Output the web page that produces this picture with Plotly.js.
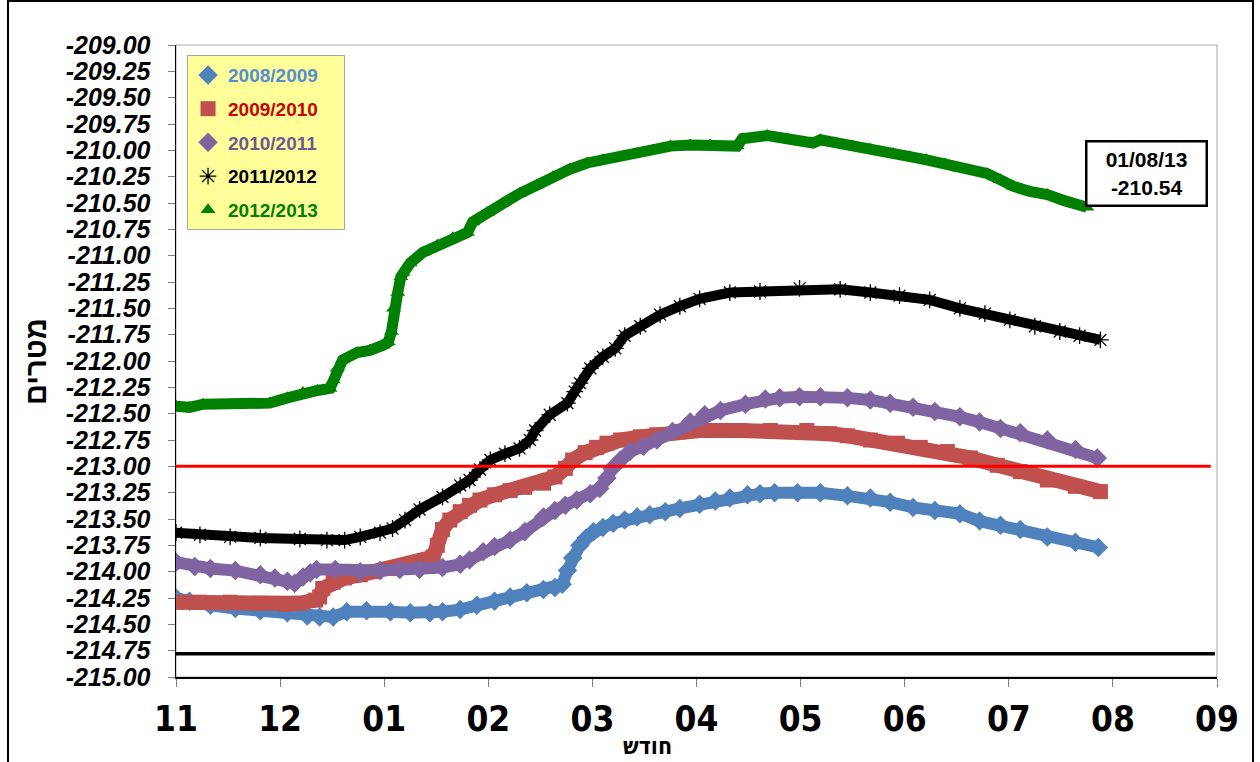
<!DOCTYPE html>
<html><head><meta charset="utf-8">
<script src="https://cdn.plot.ly/plotly-3.0.1.min.js"></script>
<style>
html,body{margin:0;padding:0;overflow:hidden;background:#fff;}
#chart{position:absolute;left:0;top:0;width:1260px;height:762px;}
#frame{position:absolute;left:7px;top:0;width:1247px;height:800px;border:2px solid #000;box-sizing:border-box;pointer-events:none;}
</style></head><body>
<div id="chart"></div><div id="frame"></div>
<script>
// x = months since 1 November (tick 0 = "11" ... tick 10 = "09")
const MONTH_POS = [0,1,2,3,4,5,6,7,8,9,10];
const MONTH_LABELS = ['11','12','01','02','03','04','05','06','07','08','09'];
const Y_TICK_VALS = [-215,-214.75,-214.5,-214.25,-214,-213.75,-213.5,-213.25,-213,-212.75,-212.5,-212.25,-212,-211.75,-211.5,-211.25,-211,-210.75,-210.5,-210.25,-210,-209.75,-209.5,-209.25,-209];
const Y_TICK_LABELS = ['-215.00','-214.75','-214.50','-214.25','-214.00','-213.75','-213.50','-213.25','-213.00','-212.75','-212.50','-212.25','-212.00','-211.75','-211.50','-211.25','-211.00','-210.75','-210.50','-210.25','-210.00','-209.75','-209.50','-209.25','-209.00'];

const SERIES_NAMES = ['2008/2009','2009/2010','2010/2011','2011/2012','2012/2013'];

const x_0809 = [0.00,0.13,0.33,0.57,0.81,1.07,1.26,1.38,1.51,1.64,1.83,2.06,2.25,2.44,2.56,2.73,2.89,3.06,3.21,3.37,3.53,3.64,3.71,3.76,3.81,3.88,3.94,4.01,4.10,4.20,4.31,4.43,4.55,4.70,4.84,5.03,5.18,5.32,5.49,5.61,5.75,5.97,6.19,6.45,6.67,6.86,7.08,7.29,7.53,7.72,7.92,8.11,8.37,8.64,8.86];
const y_0809 = [-214.25,-214.28,-214.32,-214.35,-214.37,-214.39,-214.42,-214.43,-214.43,-214.38,-214.37,-214.38,-214.39,-214.39,-214.38,-214.36,-214.32,-214.28,-214.24,-214.20,-214.17,-214.15,-214.12,-213.99,-213.87,-213.75,-213.68,-213.62,-213.58,-213.54,-213.51,-213.48,-213.46,-213.43,-213.40,-213.36,-213.33,-213.30,-213.27,-213.26,-213.25,-213.25,-213.25,-213.28,-213.30,-213.34,-213.39,-213.42,-213.45,-213.52,-213.56,-213.60,-213.67,-213.72,-213.77];

const x_0910 = [0.00,0.23,0.52,0.81,1.05,1.19,1.34,1.38,1.41,1.51,1.62,1.77,1.91,2.08,2.25,2.39,2.47,2.51,2.56,2.63,2.73,2.82,2.92,3.06,3.21,3.35,3.53,3.64,3.74,3.81,3.93,4.04,4.14,4.27,4.46,4.62,4.84,5.03,5.42,5.71,6.06,6.28,6.45,6.67,6.93,7.15,7.41,7.63,7.89,8.11,8.37,8.64,8.88];
const y_0910 = [-214.29,-214.29,-214.29,-214.30,-214.31,-214.30,-214.27,-214.24,-214.16,-214.10,-214.06,-214.03,-214.00,-213.97,-213.94,-213.90,-213.86,-213.75,-213.60,-213.51,-213.43,-213.37,-213.32,-213.27,-213.23,-213.20,-213.16,-213.10,-213.02,-212.94,-212.87,-212.82,-212.78,-212.75,-212.72,-212.70,-212.67,-212.66,-212.66,-212.66,-212.66,-212.69,-212.71,-212.75,-212.78,-212.82,-212.86,-212.92,-212.99,-213.05,-213.13,-213.19,-213.24];

const x_1011 = [0.00,0.18,0.33,0.57,0.81,0.95,1.07,1.14,1.22,1.29,1.35,1.53,1.77,1.96,2.15,2.34,2.56,2.73,2.82,2.95,3.06,3.21,3.35,3.53,3.64,3.74,3.85,3.98,4.07,4.14,4.19,4.27,4.36,4.49,4.62,4.77,4.94,5.08,5.23,5.47,5.66,5.80,5.99,6.19,6.45,6.67,6.86,7.08,7.29,7.53,7.72,7.92,8.11,8.37,8.64,8.85];
const y_1011 = [-213.91,-213.95,-213.97,-213.99,-214.03,-214.06,-214.09,-214.11,-214.05,-214.01,-213.98,-213.98,-214.00,-213.99,-213.98,-213.98,-213.96,-213.93,-213.89,-213.81,-213.76,-213.70,-213.62,-213.48,-213.42,-213.37,-213.32,-213.26,-213.21,-213.11,-213.02,-212.94,-212.86,-212.81,-212.75,-212.67,-212.58,-212.51,-212.47,-212.41,-212.36,-212.35,-212.34,-212.34,-212.35,-212.37,-212.40,-212.44,-212.48,-212.53,-212.58,-212.64,-212.68,-212.75,-212.84,-212.92];

const x_1112 = [0.00,0.23,0.52,0.81,1.19,1.45,1.62,1.77,1.96,2.08,2.20,2.34,2.56,2.73,2.82,2.92,3.02,3.16,3.30,3.40,3.45,3.59,3.76,3.83,3.88,3.98,4.10,4.22,4.31,4.46,4.65,4.84,5.03,5.32,5.61,5.99,6.38,6.67,6.95,7.24,7.53,7.77,8.01,8.25,8.49,8.68,8.88];
const y_1112 = [-213.63,-213.65,-213.67,-213.68,-213.69,-213.70,-213.70,-213.67,-213.63,-213.59,-213.51,-213.41,-213.29,-213.18,-213.13,-213.03,-212.94,-212.88,-212.83,-212.75,-212.66,-212.51,-212.40,-212.29,-212.21,-212.07,-211.96,-211.88,-211.76,-211.67,-211.56,-211.48,-211.41,-211.35,-211.34,-211.31,-211.32,-211.35,-211.38,-211.42,-211.50,-211.55,-211.61,-211.67,-211.72,-211.76,-211.80];

const x_1213 = [0.00,0.13,0.26,0.52,0.71,0.90,1.07,1.22,1.36,1.48,1.51,1.55,1.60,1.74,1.86,1.99,2.04,2.07,2.09,2.13,2.16,2.18,2.25,2.37,2.51,2.66,2.80,2.85,2.99,3.14,3.30,3.47,3.62,3.78,3.95,4.10,4.27,4.43,4.58,4.75,4.94,5.13,5.39,5.44,5.68,5.87,6.12,6.19,6.33,6.50,6.67,6.89,7.05,7.21,7.39,7.53,7.79,7.92,8.04,8.20,8.37,8.54,8.75];
const y_1213 = [-212.43,-212.44,-212.41,-212.41,-212.41,-212.40,-212.35,-212.30,-212.28,-212.26,-212.18,-212.07,-211.99,-211.92,-211.90,-211.85,-211.82,-211.72,-211.50,-211.35,-211.20,-211.16,-211.07,-210.97,-210.90,-210.83,-210.78,-210.68,-210.59,-210.50,-210.41,-210.33,-210.25,-210.18,-210.12,-210.09,-210.06,-210.03,-210.00,-209.96,-209.95,-209.95,-209.96,-209.89,-209.86,-209.89,-209.93,-209.90,-209.93,-209.96,-209.99,-210.03,-210.06,-210.09,-210.13,-210.17,-210.22,-210.28,-210.34,-210.39,-210.42,-210.48,-210.54];

// reference levels
const RED_LINE_X = [0, 9.94];
const RED_LINE_Y = [-213.00, -213.00];
const BLACK_LINE_X = [0, 9.98];
const BLACK_LINE_Y = [-214.78, -214.78];

const LAST_DATE = '01/08/13';
const LAST_VALUE = '-210.54';

const BASE_FONT = 'Liberation Sans, Arial, Helvetica, sans-serif';
const NARROW_FONT = 'Liberation Sans Narrow, Arial Narrow, DejaVu Sans Condensed, Roboto Condensed, Liberation Sans, sans-serif';
const PAD = '\u00A0\u00A0\u00A0\u00A0';

const styles = [
  {color:'#4F81BD', text:'#558ED5', symbol:'diamond', size:15, lw:12},
  {color:'#C0504D', text:'#CC0000', symbol:'square', size:15, lw:15},
  {color:'#8064A2', text:'#6B5B95', symbol:'diamond', size:15, lw:12},
  {color:'#000000', text:'#000000', symbol:'asterisk-open', size:14, lw:10},
  {color:'#008000', text:'#008000', symbol:'triangle-up', size:13, lw:11}
];
const xs = [x_0809, x_0910, x_1011, x_1112, x_1213];
const ys = [y_0809, y_0910, y_1011, y_1112, y_1213];

const traces = [];
for (let i = 0; i < xs.length; i++) {
  const s = styles[i];
  traces.push({x: xs[i], y: ys[i], type:'scatter', mode:'lines', showlegend:false, hoverinfo:'skip',
    line:{color:s.color, width:s.lw}});
  traces.push({x: xs[i], y: ys[i], type:'scatter', mode:'markers', legendgroup:'g'+i,
    name:'<span style="color:'+s.text+'">'+SERIES_NAMES[i]+'</span>'+PAD,
    marker:{color:s.color, symbol:s.symbol, size:s.size,
      line: s.symbol==='asterisk-open' ? {color:'#000', width:1.3} : {width:0}}});
}
traces.push({x: RED_LINE_X, y: RED_LINE_Y, type:'scatter', mode:'lines', showlegend:false, line:{color:'#FF0000', width:3}});
traces.push({x: BLACK_LINE_X, y: BLACK_LINE_Y, type:'scatter', mode:'lines', showlegend:false, line:{color:'#000000', width:3.5}});

const layout = {
  width:1260, height:762,
  margin:{l:176, r:43, t:45, b:85},
  paper_bgcolor:'rgba(0,0,0,0)', plot_bgcolor:'#ffffff',
  font:{family:BASE_FONT, color:'#000'},
  showlegend:true,
  legend:{x:0.0106, y:0.984, xanchor:'left', yanchor:'top', bgcolor:'#FFFF99', bordercolor:'#A6A6A6', borderwidth:1,
    font:{family:BASE_FONT, size:19, weight:'bold'}, tracegroupgap:6, itemwidth:30},
  xaxis:{range:[0,10], tickmode:'array', tickvals:MONTH_POS, ticktext:MONTH_LABELS, ticks:'outside', ticklen:8, tickcolor:'#808080',
    showline:true, linecolor:'#000', linewidth:1.5, showgrid:false, zeroline:false, ticklabelstandoff:2,
    tickfont:{family:NARROW_FONT, size:35, weight:'bold', color:'#000'}},
  yaxis:{range:[-215,-209], tickmode:'array', tickvals:Y_TICK_VALS, ticktext:Y_TICK_LABELS, ticks:'outside', ticklen:7, tickcolor:'#808080',
    showline:true, linecolor:'#000', linewidth:1.5, showgrid:false, zeroline:false, ticklabelstandoff:12,
    tickfont:{family:BASE_FONT, size:25, weight:'bold', style:'italic', color:'#000'}},
  shapes:[{type:'rect', xref:'paper', yref:'paper', x0:0, x1:1, y0:0, y1:1, line:{color:'#A6A6A6', width:1}, layer:'below'}],
  annotations:[
    {xref:'paper', yref:'paper', x:0.932, y:0.796, xanchor:'center', yanchor:'middle', showarrow:false,
     text:LAST_DATE+'<br>'+LAST_VALUE, font:{family:BASE_FONT, size:21, weight:'bold', color:'#000'},
     bgcolor:'#fff', bordercolor:'#000', borderwidth:2.5, borderpad:2, width:114, height:58, align:'center'},
    {xref:'paper', yref:'paper', x:-0.1345, y:0.5, xanchor:'center', yanchor:'middle', showarrow:false, textangle:-90,
     text:'מטרים', font:{family:BASE_FONT, size:29, weight:'bold', color:'#000'}},
    {xref:'paper', yref:'paper', x:0.4525, y:-0.109, xanchor:'center', yanchor:'middle', showarrow:false,
     text:'חודש', font:{family:NARROW_FONT, size:23, weight:'bold', color:'#000'}}
  ]
};
Plotly.newPlot('chart', traces, layout, {displayModeBar:false, staticPlot:true});
</script></body></html>
